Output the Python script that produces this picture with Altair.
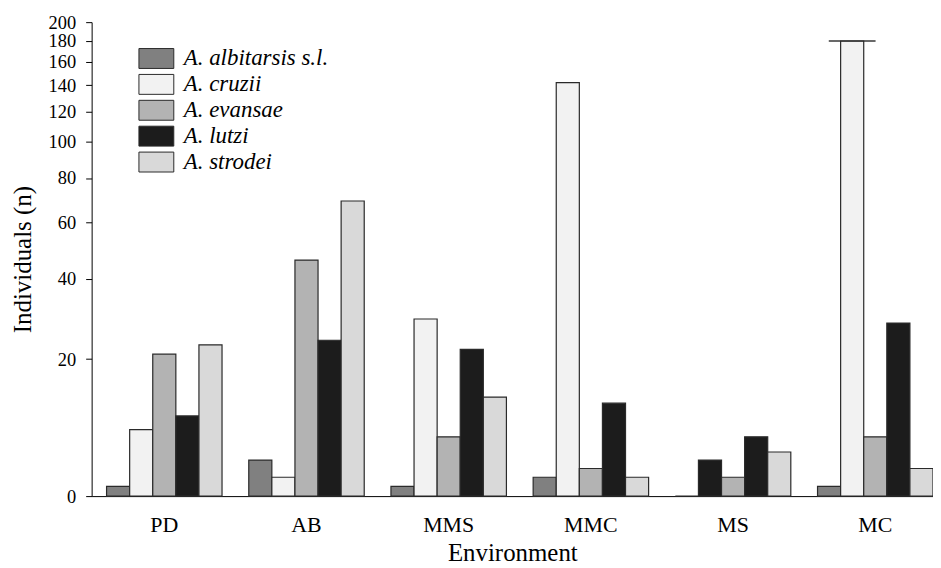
import altair as alt
import pandas as pd

environments = ["PD", "AB", "MMS", "MMC", "MS", "MC"]
species = ["A. albitarsis s.l.", "A. cruzii", "A. evansae", "A. lutzi", "A. strodei"]
albitarsis = [1, 4, 1, 2, 0, 1]
cruzii = [8, 2, 29, 142, 4, 180]
evansae = [21, 46, 7, 3, 2, 7]
lutzi = [10, 24, 22, 12, 7, 28]
strodei = [23, 69, 13, 2, 5, 3]
y_ticks = [0, 20, 40, 60, 80, 100, 120, 140, 160, 180, 200]
colors = ["#808080", "#f2f2f2", "#b3b3b3", "#1c1c1c", "#d9d9d9"]

series = [albitarsis, cruzii, evansae, lutzi, strodei]
rows = []
for sp, vals in zip(species, series):
    for env, v in zip(environments, vals):
        rows.append({"Environment": env, "Species": sp, "n": v})
df = pd.DataFrame(rows)

FONT = "Liberation Serif"

x_enc = alt.X(
    "Environment:N",
    sort=environments,
    scale=alt.Scale(paddingInner=0.188, paddingOuter=0.0525, align=1),
    axis=alt.Axis(
        title="Environment", labelAngle=0, ticks=False, labelPadding=19,
        labelFontSize=22, titleFontSize=25, titlePadding=5,
        domainColor="#000000", labelColor="#000000", titleColor="#000000",
        labelFont=FONT, titleFont=FONT, titleFontWeight="normal",
    ),
)
xoff_enc = alt.XOffset(
    "Species:N", sort=species, scale=alt.Scale(paddingInner=0, paddingOuter=0)
)
y_enc = alt.Y(
    "n:Q",
    scale=alt.Scale(type="symlog", constant=20, domain=[0, 200], nice=False),
    axis=alt.Axis(
        title="Individuals (n)", values=y_ticks, grid=False, tickSize=6,
        labelPadding=10, labelFontSize=18.5, labelOverlap=False,
        titleFontSize=25, titlePadding=13,
        domainColor="#000000", tickColor="#000000", labelColor="#000000",
        titleColor="#000000", labelFont=FONT, titleFont=FONT,
        titleFontWeight="normal",
    ),
)

bars = alt.Chart(df).mark_bar(stroke="#2a2a2a", strokeWidth=1.2).encode(
    x=x_enc,
    xOffset=xoff_enc,
    y=y_enc,
    fill=alt.condition(
        "datum.Environment === 'MS' && datum.Species === 'A. cruzii'",
        alt.value("#1c1c1c"),
        alt.Fill(
            "Species:N",
            sort=species,
            scale=alt.Scale(domain=species, range=colors),
            legend=alt.Legend(
                title=None, orient="none", legendX=53.5, legendY=25,
                symbolType="M-1.75,-1H1.75V1H-1.75Z", symbolSize=400,
                symbolStrokeColor="#2a2a2a", symbolStrokeWidth=1,
                symbolOpacity=1, labelOffset=16, rowPadding=1,
                labelFont=FONT, labelFontSize=23, labelFontStyle="italic",
                labelColor="#000000", padding=0,
            ),
        ),
    ),
)

cap = alt.Chart(df).transform_filter(
    "datum.Environment === 'MC' && datum.Species === 'A. cruzii'"
).mark_tick(color="#2a2a2a", thickness=2, size=47).encode(
    x=alt.X("Environment:N", sort=environments),
    xOffset=alt.XOffset("Species:N", sort=species),
    y=alt.Y("n:Q"),
)

chart = alt.layer(bars, cap).properties(
    width=845,
    height=476,
    autosize=alt.AutoSizeParams(type="none"),
    padding={"left": 84, "top": 13, "right": 0, "bottom": 72},
    background="white",
).configure_view(stroke=None)

chart.save("out.html", embed_options={"renderer": "svg", "actions": False})
